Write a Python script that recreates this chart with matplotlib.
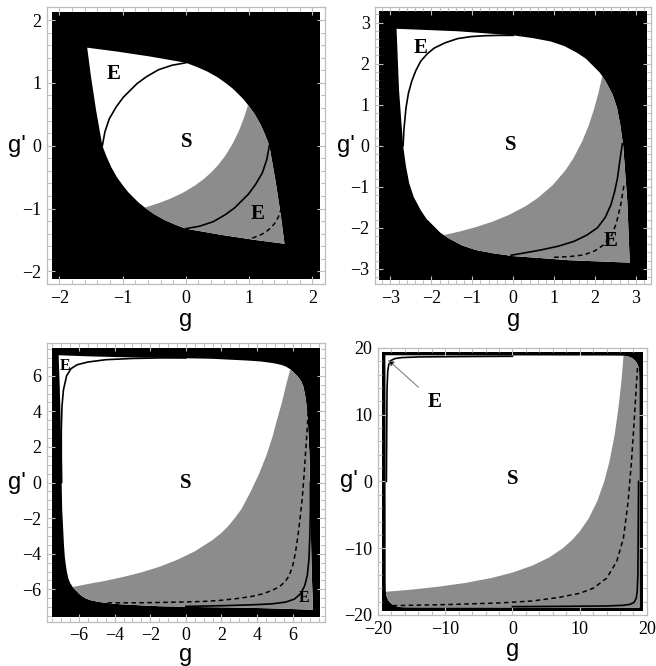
import matplotlib
matplotlib.use("Agg")
import matplotlib.pyplot as plt
from matplotlib.patches import Polygon, Rectangle
from matplotlib.ticker import MultipleLocator, FixedLocator

# ---------------- Panel 1 ----------------
P1_LIM = 2.2
P1_BLACK = 2.12
P1_TICKS = [-2, -1, 0, 1, 2]
P1_MINOR = 0.2
P1_UR_G = [-1.56, -1.10, -0.57, 0.0, 0.17, 0.34, 0.50, 0.64, 0.74, 0.826, 0.91, 0.99, 1.09, 1.18, 1.255, 1.32, 1.42, 1.50, 1.56]
P1_UR_GP = [1.56, 1.50, 1.42, 1.32, 1.255, 1.18, 1.09, 0.99, 0.91, 0.826, 0.74, 0.64, 0.50, 0.34, 0.17, 0.0, -0.57, -1.10, -1.56]
P1_LL_G = [1.56, 1.10, 0.57, 0.0, -0.17, -0.34, -0.50, -0.64, -0.74, -0.826, -0.91, -0.99, -1.09, -1.18, -1.255, -1.32, -1.42, -1.50, -1.56]
P1_LL_GP = [-1.56, -1.50, -1.42, -1.32, -1.255, -1.18, -1.09, -0.99, -0.91, -0.826, -0.74, -0.64, -0.50, -0.34, -0.17, 0.0, 0.57, 1.10, 1.56]
P1_DIV_G = [-0.64, -0.45, -0.25, -0.05, 0.15, 0.30, 0.413, 0.517, 0.63, 0.75, 0.845, 0.921, 0.982]
P1_DIV_GP = [-0.982, -0.921, -0.845, -0.75, -0.63, -0.517, -0.413, -0.30, -0.15, 0.05, 0.25, 0.45, 0.64]
P1_ARC1_G = [-1.32, -1.28, -1.21, -1.10, -0.99, -0.88, -0.77, -0.62, -0.43, -0.22, 0.0]
P1_ARC1_GP = [0.0, 0.22, 0.43, 0.62, 0.77, 0.88, 0.99, 1.10, 1.21, 1.28, 1.32]
P1_ARC2_G = [1.32, 1.28, 1.21, 1.10, 0.99, 0.88, 0.77, 0.62, 0.43, 0.22, 0.0]
P1_ARC2_GP = [0.0, -0.22, -0.43, -0.62, -0.77, -0.88, -0.99, -1.10, -1.21, -1.28, -1.32]
P1_DASH_G = [1.05, 1.12, 1.20, 1.28, 1.35, 1.41, 1.46, 1.50]
P1_DASH_GP = [-1.47, -1.445, -1.41, -1.36, -1.30, -1.23, -1.14, -1.03]
P1_LABELS = ["E", "S", "E"]
P1_LABEL_G = [-1.15, 0.02, 1.13]
P1_LABEL_GP = [1.14, 0.06, -1.08]

# ---------------- Panel 2 ----------------
P2_LIM = 3.37
P2_BLACK = 3.28
P2_TICKS = [-3, -2, -1, 0, 1, 2, 3]
P2_MINOR = 0.2
P2_UR_G = [-2.85, -2.10, -1.36, -0.55, 0.0, 0.5, 0.92, 1.25, 1.57, 1.78, 1.95, 2.12, 2.26, 2.43, 2.54, 2.62, 2.69, 2.73, 2.79, 2.82, 2.85]
P2_UR_GP = [2.85, 2.82, 2.79, 2.73, 2.69, 2.62, 2.54, 2.43, 2.26, 2.12, 1.95, 1.78, 1.57, 1.25, 0.92, 0.5, 0.0, -0.55, -1.36, -2.10, -2.85]
P2_LL_G = [2.85, 2.10, 1.36, 0.55, 0.0, -0.5, -0.92, -1.25, -1.57, -1.78, -1.95, -2.12, -2.26, -2.43, -2.54, -2.62, -2.69, -2.73, -2.79, -2.82, -2.85]
P2_LL_GP = [-2.85, -2.82, -2.79, -2.73, -2.69, -2.62, -2.54, -2.43, -2.26, -2.12, -1.95, -1.78, -1.57, -1.25, -0.92, -0.5, 0.0, 0.55, 1.36, 2.10, 2.85]
P2_DIV_G = [-1.73, -1.30, -0.90, -0.50, -0.10, 0.30, 0.60, 0.964, 1.277, 1.476, 1.685, 1.85, 1.98, 2.089, 2.186]
P2_DIV_GP = [-2.186, -2.089, -1.98, -1.85, -1.685, -1.476, -1.277, -0.964, -0.60, -0.30, 0.10, 0.50, 0.90, 1.30, 1.73]
P2_ARC1_G = [-2.69, -2.67, -2.62, -2.56, -2.48, -2.38, -2.26, -2.10, -1.93, -1.66, -1.36, -1.03, -0.71, -0.35, 0.0]
P2_ARC1_GP = [0.0, 0.40, 0.92, 1.28, 1.57, 1.83, 2.06, 2.24, 2.38, 2.51, 2.61, 2.66, 2.68, 2.69, 2.69]
P2_ARC2_G = [-0.05, 0.35, 0.68, 1.10, 1.49, 1.80, 2.06, 2.25, 2.39, 2.48, 2.55, 2.61, 2.67]
P2_ARC2_GP = [-2.67, -2.60, -2.54, -2.45, -2.33, -2.18, -2.0, -1.75, -1.44, -1.12, -0.79, -0.35, 0.05]
P2_DASH_G = [1.0, 1.40, 1.73, 2.00, 2.22, 2.40, 2.52, 2.63, 2.71]
P2_DASH_GP = [-2.72, -2.70, -2.66, -2.56, -2.41, -2.20, -1.90, -1.44, -0.95]
P2_LABELS = ["E", "S", "E"]
P2_LABEL_G = [-2.26, -0.05, 2.39]
P2_LABEL_GP = [2.38, 0.02, -2.33]

# ---------------- Panel 3 ----------------
P3_LIM = 7.82
P3_BLACK = 7.55
P3_TICKS = [-6, -4, -2, 0, 2, 4, 6]
P3_MINOR = 0.5
P3_UR_G = [-7.15, -5.5, -4.0, -2.5, -1.0, 0.5, 1.5, 2.5, 3.5, 4.2, 4.6, 5.0, 5.4, 5.65, 5.87, 6.0, 6.12,
           6.25, 6.36, 6.5, 6.6, 6.69, 6.75, 6.8, 6.85, 6.9, 6.95, 6.97, 7.0, 7.02, 7.05, 7.09, 7.15]
P3_UR_GP = [7.15, 7.09, 7.05, 7.02, 7.0, 6.97, 6.95, 6.9, 6.85, 6.8, 6.75, 6.69, 6.6, 6.5, 6.36, 6.25, 6.12,
            6.0, 5.87, 5.65, 5.4, 5.0, 4.6, 4.2, 3.5, 2.5, 1.5, 0.5, -1.0, -2.5, -4.0, -5.5, -7.15]
P3_LL_G = [7.15, 5.5, 4.0, 2.5, 1.0, -0.5, -1.5, -2.5, -3.5, -4.2, -4.6, -5.0, -5.4, -5.65, -5.87, -6.0, -6.12,
           -6.25, -6.36, -6.5, -6.6, -6.69, -6.75, -6.8, -6.85, -6.9, -6.95, -6.97, -7.0, -7.02, -7.05, -7.09, -7.15]
P3_LL_GP = [-7.15, -7.09, -7.05, -7.02, -7.0, -6.97, -6.95, -6.9, -6.85, -6.8, -6.75, -6.69, -6.6, -6.5, -6.36, -6.25, -6.12,
            -6.0, -5.87, -5.65, -5.4, -5.0, -4.6, -4.2, -3.5, -2.5, -1.5, -0.5, 1.0, 2.5, 4.0, 5.5, 7.15]
P3_DIV_G = [-6.36, -5.5, -4.5, -3.5, -2.5, -1.5, -0.5, 0.5, 1.5, 2.0, 2.4, 2.75, 3.12, 3.65, 4.12, 4.52, 4.85, 5.12, 5.4, 5.64, 5.87]
P3_DIV_GP = [-5.87, -5.70, -5.52, -5.30, -5.05, -4.74, -4.35, -3.87, -3.23, -2.83, -2.43, -2.0, -1.5, -0.5, 0.5, 1.5, 2.5, 3.5, 4.5, 5.5, 6.36]
P3_ARC1_G = [-6.98, -7.0, -7.0, -6.96, -6.88, -6.7, -6.45, -6.1, -5.5, -4.5, -3.0, -1.5, 0.0]
P3_ARC1_GP = [0.0, 1.5, 3.0, 4.3, 5.2, 6.0, 6.4, 6.62, 6.77, 6.9, 6.97, 7.0, 7.0]
P3_ARC2_G = [7.0, 7.0, 6.97, 6.92, 6.83, 6.68, 6.45, 6.1, 5.6, 4.8, 3.7, 2.0, 0.0]
P3_ARC2_GP = [0.0, -1.5, -3.0, -4.3, -5.2, -5.8, -6.25, -6.55, -6.72, -6.82, -6.87, -6.92, -6.96]
P3_DASH_G = [-4.4, -3.0, -1.5, 0.0, 1.0, 1.84, 2.8, 3.7, 4.3, 4.8, 5.22, 5.55, 5.8, 6.0, 6.15, 6.3, 6.42, 6.55, 6.65, 6.75, 6.82, 6.87]
P3_DASH_GP = [-6.76, -6.76, -6.74, -6.71, -6.68, -6.63, -6.53, -6.40, -6.26, -6.08, -5.88, -5.6, -5.25, -4.7, -4.0, -3.0, -2.0, -0.8, 0.5, 2.0, 3.0, 3.9]
P3_LABELS = ["E", "S", "E"]
P3_LABEL_G = [-6.77, 0.0, 6.62]
P3_LABEL_GP = [6.52, 0.0, -6.47]
P3_LABEL_SIZE = [11.5, 15, 11.5]

# ---------------- Panel 4 ----------------
P4_LIM = 20.0
P4_BLACK = 19.4
P4_TICKS = [-20, -10, 0, 10, 20]
P4_MINOR = 2.0
P4_UR_G = [-18.9, -10, 0, 8, 13, 15.5, 16.5, 17.1, 17.6, 17.95, 18.16,
           18.36, 18.57, 18.75, 18.83, 18.85, 18.86, 18.86, 18.87, 18.88, 18.9]
P4_UR_GP = [18.9, 18.88, 18.87, 18.86, 18.86, 18.85, 18.83, 18.75, 18.57, 18.36, 18.16,
            17.95, 17.6, 17.1, 16.5, 15.5, 13, 8, 0, -10, -18.9]
P4_LL_G = [18.9, 10, 0, -8, -13, -15.5, -16.5, -17.1, -17.6, -17.95, -18.16,
           -18.36, -18.57, -18.75, -18.83, -18.85, -18.86, -18.86, -18.87, -18.88, -18.9]
P4_LL_GP = [-18.9, -18.88, -18.87, -18.86, -18.86, -18.85, -18.83, -18.75, -18.57, -18.36, -18.16,
            -17.95, -17.6, -17.1, -16.5, -15.5, -13, -8, 0, 10, 18.9]
P4_DIV_G = [-18.8, -15, -11, -7, -3, 0, 3, 5.5, 7.5, 8.82, 10.0, 11.36, 12.59, 13.65, 14.43, 15.2, 15.76, 16.2, 16.52]
P4_DIV_GP = [-16.52, -16.2, -15.76, -15.2, -14.43, -13.65, -12.59, -11.36, -10.0, -8.82, -7.5, -5.5, -3, 0, 3, 7, 11, 15, 18.8]
P4_ARC1_G = [-18.75, -18.7, -18.65, -18.55, -18.4, -18.1, -17.5, -16.5, -14, -8, 0]
P4_ARC1_GP = [0, 8, 14, 16.5, 17.5, 18.1, 18.4, 18.55, 18.65, 18.7, 18.75]
P4_ARC2_G = [18.75, 18.7, 18.65, 18.55, 18.4, 18.1, 17.5, 16.5, 14, 8, 0]
P4_ARC2_GP = [0, -8, -14, -16.5, -17.5, -18.1, -18.4, -18.55, -18.65, -18.7, -18.75]
P4_DASH_G = [-17.8, -10, -2, 3, 7.0, 10.0, 12.0, 14.0, 15.5, 16.5, 17.2, 17.7, 18.1, 18.4, 18.6]
P4_DASH_GP = [-18.6, -18.45, -18.2, -17.9, -17.35, -16.75, -16.0, -14.5, -12.0, -8.5, -3.0, 3.0, 9.0, 14.0, 17.0]
P4_LABELS = ["S"]
P4_LABEL_G = [0.0]
P4_LABEL_GP = [0.3]
P4_LABEL_SIZE = [15]
P4_ARROW_TEXT = "E"
P4_ARROW_TIP = (-18.5, 18.2)
P4_ARROW_FROM = (-11.6, 11.95)

GRAY = "#8c8c8c"
FRAME = "#bdbdbd"
SERIF = ["Liberation Serif", "DejaVu Serif"]
SANS = ["Liberation Sans", "DejaVu Sans"]

fig = plt.figure(figsize=(6.56, 6.66), dpi=100)


def fmt(v):
    v = int(v)
    return ("\u2212%d" % -v) if v < 0 else "%d" % v


def draw(rect, lim, black, ticks, minor, ur, ll, div, arc1, arc2, dash,
         labels, lab_g, lab_gp, lab_size, xlab_y):
    ax = fig.add_axes(rect)
    ax.set_xlim(-lim, lim)
    ax.set_ylim(-lim, lim)
    ax.set_facecolor("white")
    ax.add_patch(Rectangle((-black, -black), 2 * black, 2 * black,
                           facecolor="black", edgecolor="none", zorder=1))
    shape_pts = list(zip(ur[0], ur[1])) + list(zip(ll[0], ll[1]))
    shape = Polygon(shape_pts, closed=True, facecolor="white",
                    edgecolor="none", zorder=2)
    ax.add_patch(shape)
    gray_pts = list(zip(div[0], div[1])) + [(black, black), (black, -black),
                                             (-black, -black)]
    gp = Polygon(gray_pts, closed=True, facecolor=GRAY, edgecolor="none",
                 zorder=3)
    ax.add_patch(gp)
    gp.set_clip_path(shape)
    ax.plot(arc1[0], arc1[1], color="black", lw=1.2, zorder=4,
            solid_joinstyle="round")
    ax.plot(arc2[0], arc2[1], color="black", lw=1.2, zorder=4,
            solid_joinstyle="round")
    ax.plot(dash[0], dash[1], color="black", lw=1.1, ls=(0, (3, 2.2)), zorder=4)
    for t, x, y, s in zip(labels, lab_g, lab_gp, lab_size):
        ax.text(x, y, t, family=SERIF, weight="bold", fontsize=s,
                ha="center", va="center", zorder=5)
    ax.xaxis.set_major_locator(FixedLocator(ticks))
    ax.yaxis.set_major_locator(FixedLocator(ticks))
    ax.xaxis.set_minor_locator(MultipleLocator(minor))
    ax.yaxis.set_minor_locator(MultipleLocator(minor))
    ax.set_xticklabels([fmt(t) for t in ticks])
    ax.set_yticklabels([fmt(t) for t in ticks])
    ax.tick_params(which="both", direction="in", top=True, right=True,
                   color=FRAME, width=0.8)
    ax.tick_params(which="major", length=5.5, labelsize=13, pad=4)
    ax.tick_params(which="minor", length=3)
    for lab in ax.get_xticklabels() + ax.get_yticklabels():
        lab.set_family(SERIF)
    for s in ax.spines.values():
        s.set_color(FRAME)
        s.set_linewidth(0.9)
    ax.text(0.5, xlab_y, "g", transform=ax.transAxes, family=SANS,
            fontsize=17, ha="center", va="center")
    ax.text(-0.107, 0.5, "g'", transform=ax.transAxes, family=SANS,
            fontsize=17, ha="center", va="center")
    return ax


draw([0.0712, 0.5736, 0.4242, 0.4152], P1_LIM, P1_BLACK, P1_TICKS, P1_MINOR,
     (P1_UR_G, P1_UR_GP), (P1_LL_G, P1_LL_GP), (P1_DIV_G, P1_DIV_GP),
     (P1_ARC1_G, P1_ARC1_GP), (P1_ARC2_G, P1_ARC2_GP), (P1_DASH_G, P1_DASH_GP),
     P1_LABELS, P1_LABEL_G, P1_LABEL_GP, [15, 15, 15], -0.13)
draw([0.5721, 0.5736, 0.4203, 0.4152], P2_LIM, P2_BLACK, P2_TICKS, P2_MINOR,
     (P2_UR_G, P2_UR_GP), (P2_LL_G, P2_LL_GP), (P2_DIV_G, P2_DIV_GP),
     (P2_ARC1_G, P2_ARC1_GP), (P2_ARC2_G, P2_ARC2_GP), (P2_DASH_G, P2_DASH_GP),
     P2_LABELS, P2_LABEL_G, P2_LABEL_GP, [15, 15, 15], -0.13)
draw([0.0712, 0.0665, 0.4242, 0.418], P3_LIM, P3_BLACK, P3_TICKS, P3_MINOR,
     (P3_UR_G, P3_UR_GP), (P3_LL_G, P3_LL_GP), (P3_DIV_G, P3_DIV_GP),
     (P3_ARC1_G, P3_ARC1_GP), (P3_ARC2_G, P3_ARC2_GP), (P3_DASH_G, P3_DASH_GP),
     P3_LABELS, P3_LABEL_G, P3_LABEL_GP, P3_LABEL_SIZE, -0.118)
ax4 = draw([0.5762, 0.0766, 0.410, 0.401], P4_LIM, P4_BLACK, P4_TICKS, P4_MINOR,
           (P4_UR_G, P4_UR_GP), (P4_LL_G, P4_LL_GP), (P4_DIV_G, P4_DIV_GP),
           (P4_ARC1_G, P4_ARC1_GP), (P4_ARC2_G, P4_ARC2_GP), (P4_DASH_G, P4_DASH_GP),
           P4_LABELS, P4_LABEL_G, P4_LABEL_GP, P4_LABEL_SIZE, -0.13)
ax4.annotate(P4_ARROW_TEXT, xy=P4_ARROW_TIP, xytext=P4_ARROW_FROM,
             family=SERIF, weight="bold", fontsize=15, ha="center", va="center",
             zorder=6,
             arrowprops=dict(arrowstyle="-|>", ec="0.45", fc="black", lw=0.7,
                             mutation_scale=9, shrinkA=6, shrinkB=0))

fig.savefig("out.png", dpi=100)
